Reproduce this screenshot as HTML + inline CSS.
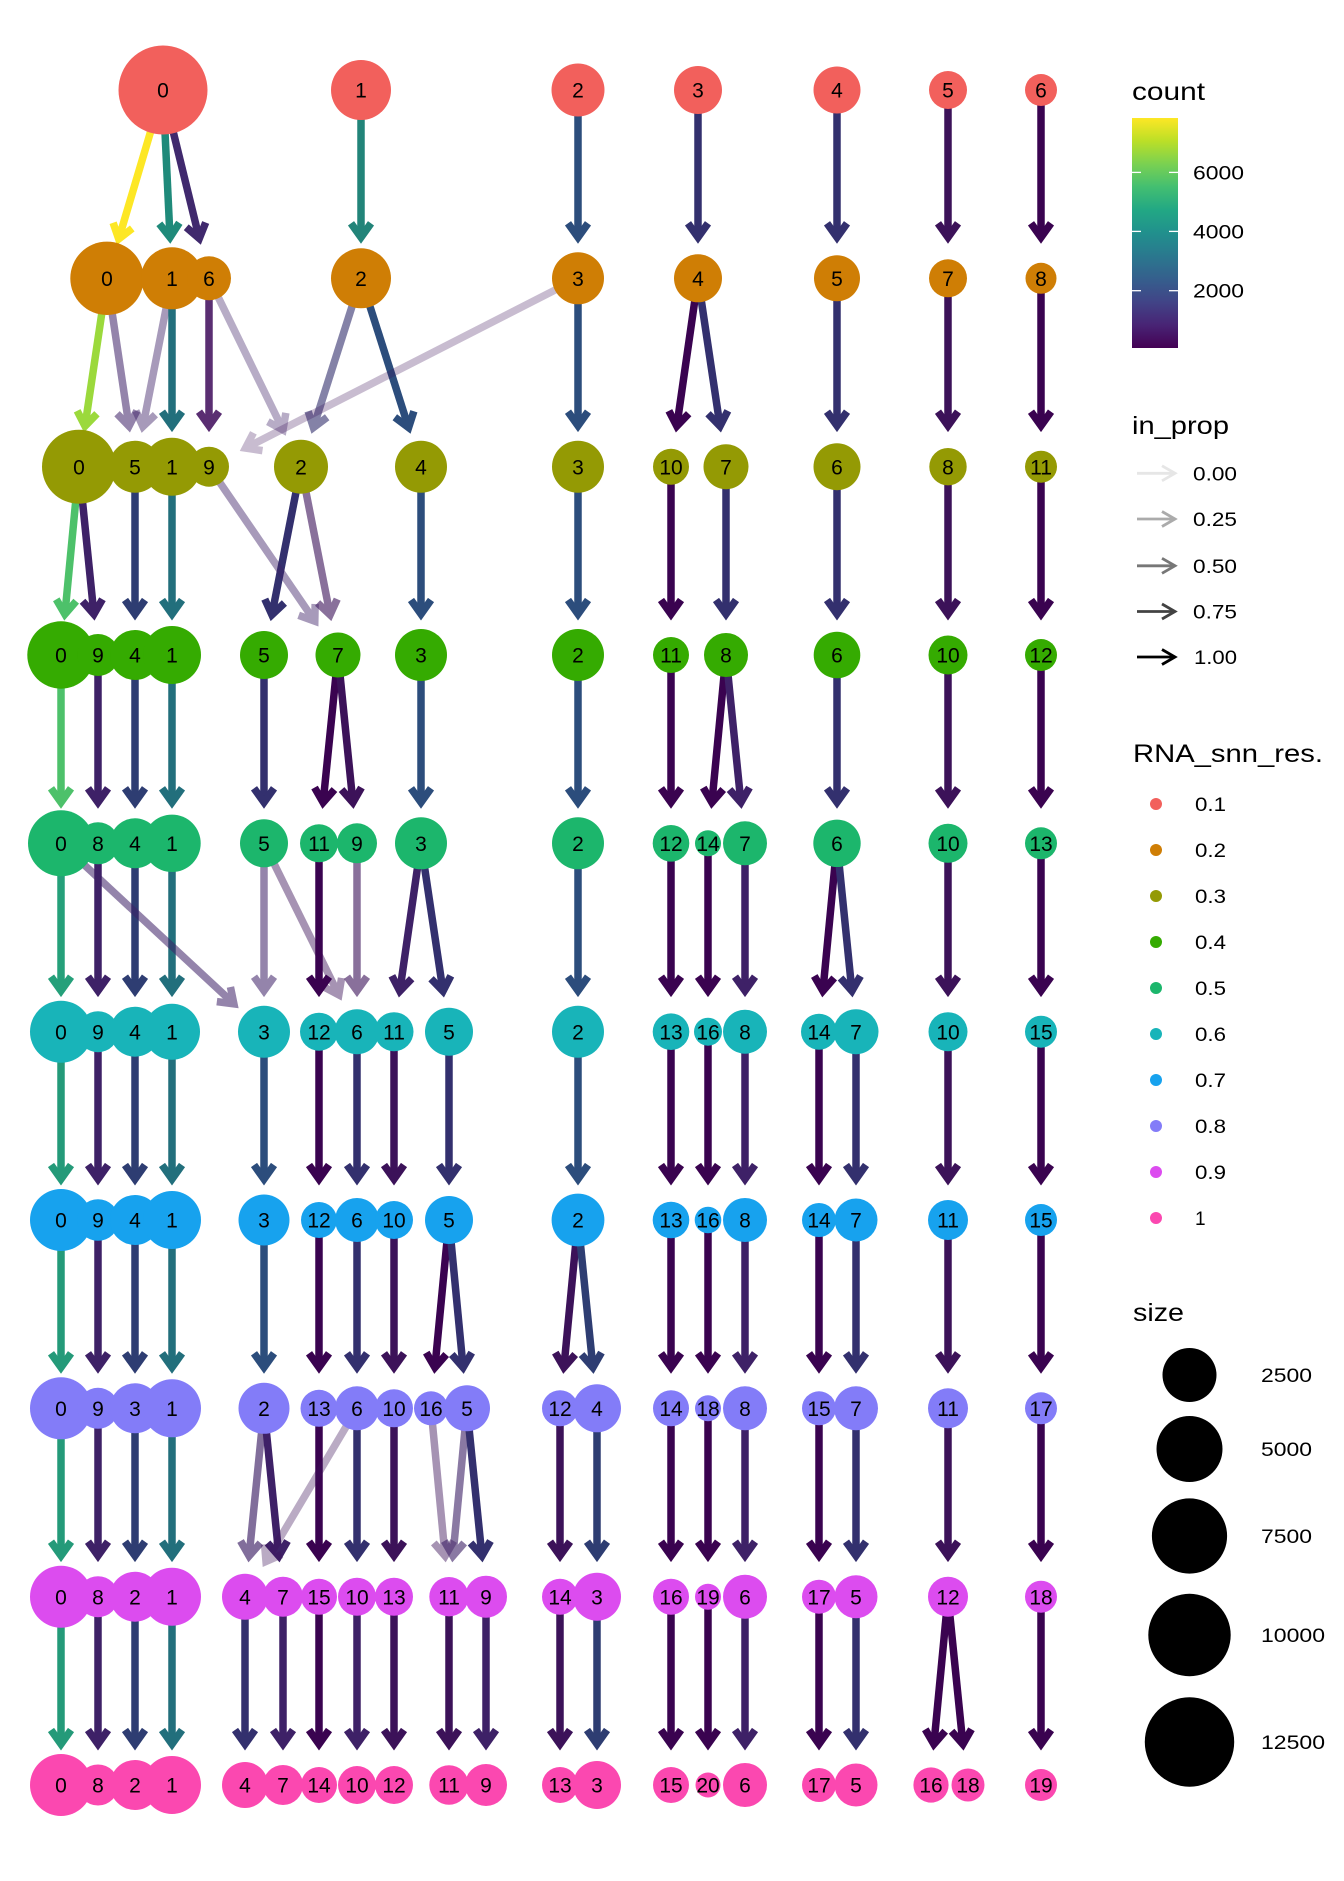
<!DOCTYPE html>
<html><head><meta charset="utf-8">
<style>
html,body{margin:0;padding:0;background:#fff}
svg{display:block}
text{font-family:"Liberation Sans",Arial,sans-serif;fill:#000}
.n text{font-size:21px;text-anchor:middle}
.lt{font-size:25px}
.ll{font-size:19px}
.e line{stroke-width:7.5;fill:none}
.Y{stroke:#FDE725;marker-end:url(#mY)}
.LG{stroke:#9BD93C;marker-end:url(#mLG)}
.G{stroke:#4DC16A;marker-end:url(#mG)}
.TG{stroke:#25A07A;marker-end:url(#mTG)}
.TG2{stroke:#249A79;marker-end:url(#mTG2)}
.T{stroke:#1F8A7A;marker-end:url(#mT)}
.T2{stroke:#228479;marker-end:url(#mT2)}
.TB{stroke:#226F7C;marker-end:url(#mTB)}
.B{stroke:#2C4D7C;marker-end:url(#mB)}
.B2{stroke:#2E3D72;marker-end:url(#mB2)}
.BP{stroke:#33306E;marker-end:url(#mBP)}
.P{stroke:#3E2167;marker-end:url(#mP)}
.PB{stroke:#40296D;marker-end:url(#mPB)}
.DP{stroke:#3C1259;marker-end:url(#mDP)}
.DD{stroke:#3A0350;marker-end:url(#mDD)}
.M{stroke:#5A2E72;marker-end:url(#mM)}
</style></head>
<body>
<svg width="1344" height="1881" viewBox="0 0 1344 1881" xmlns="http://www.w3.org/2000/svg">
<defs>
<marker id="mY" markerUnits="userSpaceOnUse" markerWidth="40" markerHeight="40" viewBox="-20 -20 40 40" refX="0" refY="0" orient="auto" overflow="visible"><path d="M-14,-10 L0,0 L-14,10" fill="none" stroke="#FDE725" stroke-width="7.5"/></marker>
<marker id="mLG" markerUnits="userSpaceOnUse" markerWidth="40" markerHeight="40" viewBox="-20 -20 40 40" refX="0" refY="0" orient="auto" overflow="visible"><path d="M-14,-10 L0,0 L-14,10" fill="none" stroke="#9BD93C" stroke-width="7.5"/></marker>
<marker id="mG" markerUnits="userSpaceOnUse" markerWidth="40" markerHeight="40" viewBox="-20 -20 40 40" refX="0" refY="0" orient="auto" overflow="visible"><path d="M-14,-10 L0,0 L-14,10" fill="none" stroke="#4DC16A" stroke-width="7.5"/></marker>
<marker id="mTG" markerUnits="userSpaceOnUse" markerWidth="40" markerHeight="40" viewBox="-20 -20 40 40" refX="0" refY="0" orient="auto" overflow="visible"><path d="M-14,-10 L0,0 L-14,10" fill="none" stroke="#25A07A" stroke-width="7.5"/></marker>
<marker id="mTG2" markerUnits="userSpaceOnUse" markerWidth="40" markerHeight="40" viewBox="-20 -20 40 40" refX="0" refY="0" orient="auto" overflow="visible"><path d="M-14,-10 L0,0 L-14,10" fill="none" stroke="#249A79" stroke-width="7.5"/></marker>
<marker id="mT" markerUnits="userSpaceOnUse" markerWidth="40" markerHeight="40" viewBox="-20 -20 40 40" refX="0" refY="0" orient="auto" overflow="visible"><path d="M-14,-10 L0,0 L-14,10" fill="none" stroke="#1F8A7A" stroke-width="7.5"/></marker>
<marker id="mT2" markerUnits="userSpaceOnUse" markerWidth="40" markerHeight="40" viewBox="-20 -20 40 40" refX="0" refY="0" orient="auto" overflow="visible"><path d="M-14,-10 L0,0 L-14,10" fill="none" stroke="#228479" stroke-width="7.5"/></marker>
<marker id="mTB" markerUnits="userSpaceOnUse" markerWidth="40" markerHeight="40" viewBox="-20 -20 40 40" refX="0" refY="0" orient="auto" overflow="visible"><path d="M-14,-10 L0,0 L-14,10" fill="none" stroke="#226F7C" stroke-width="7.5"/></marker>
<marker id="mB" markerUnits="userSpaceOnUse" markerWidth="40" markerHeight="40" viewBox="-20 -20 40 40" refX="0" refY="0" orient="auto" overflow="visible"><path d="M-14,-10 L0,0 L-14,10" fill="none" stroke="#2C4D7C" stroke-width="7.5"/></marker>
<marker id="mB2" markerUnits="userSpaceOnUse" markerWidth="40" markerHeight="40" viewBox="-20 -20 40 40" refX="0" refY="0" orient="auto" overflow="visible"><path d="M-14,-10 L0,0 L-14,10" fill="none" stroke="#2E3D72" stroke-width="7.5"/></marker>
<marker id="mBP" markerUnits="userSpaceOnUse" markerWidth="40" markerHeight="40" viewBox="-20 -20 40 40" refX="0" refY="0" orient="auto" overflow="visible"><path d="M-14,-10 L0,0 L-14,10" fill="none" stroke="#33306E" stroke-width="7.5"/></marker>
<marker id="mP" markerUnits="userSpaceOnUse" markerWidth="40" markerHeight="40" viewBox="-20 -20 40 40" refX="0" refY="0" orient="auto" overflow="visible"><path d="M-14,-10 L0,0 L-14,10" fill="none" stroke="#3E2167" stroke-width="7.5"/></marker>
<marker id="mPB" markerUnits="userSpaceOnUse" markerWidth="40" markerHeight="40" viewBox="-20 -20 40 40" refX="0" refY="0" orient="auto" overflow="visible"><path d="M-14,-10 L0,0 L-14,10" fill="none" stroke="#40296D" stroke-width="7.5"/></marker>
<marker id="mDP" markerUnits="userSpaceOnUse" markerWidth="40" markerHeight="40" viewBox="-20 -20 40 40" refX="0" refY="0" orient="auto" overflow="visible"><path d="M-14,-10 L0,0 L-14,10" fill="none" stroke="#3C1259" stroke-width="7.5"/></marker>
<marker id="mDD" markerUnits="userSpaceOnUse" markerWidth="40" markerHeight="40" viewBox="-20 -20 40 40" refX="0" refY="0" orient="auto" overflow="visible"><path d="M-14,-10 L0,0 L-14,10" fill="none" stroke="#3A0350" stroke-width="7.5"/></marker>
<marker id="mM" markerUnits="userSpaceOnUse" markerWidth="40" markerHeight="40" viewBox="-20 -20 40 40" refX="0" refY="0" orient="auto" overflow="visible"><path d="M-14,-10 L0,0 L-14,10" fill="none" stroke="#5A2E72" stroke-width="7.5"/></marker>
<linearGradient id="vir" x1="0" y1="0" x2="0" y2="1">
<stop offset="0" stop-color="#FDE725"/><stop offset="0.1" stop-color="#BBDF27"/><stop offset="0.2" stop-color="#7AD151"/><stop offset="0.3" stop-color="#43BF71"/><stop offset="0.4" stop-color="#22A884"/><stop offset="0.5" stop-color="#21908D"/><stop offset="0.6" stop-color="#2A788E"/><stop offset="0.7" stop-color="#355F8D"/><stop offset="0.8" stop-color="#414487"/><stop offset="0.9" stop-color="#482475"/><stop offset="1" stop-color="#440154"/>
</linearGradient>
</defs>
<rect width="1344" height="1881" fill="#fff"/>

<g class="e">
<!-- row0 -> row1 -->
<line class="Y" x1="163" y1="90" x2="118.7" y2="239"/>
<line class="T" x1="163" y1="90" x2="170" y2="237.3"/>
<line class="PB" x1="163" y1="90" x2="199.3" y2="238.5"/>
<line class="T2" x1="361" y1="90" x2="361" y2="237.3"/>
<line class="B" x1="578" y1="90" x2="578" y2="237.3"/>
<line class="BP" x1="698" y1="90" x2="698" y2="237.3"/>
<line class="BP" x1="837" y1="90" x2="837" y2="237.3"/>
<line class="DP" x1="948" y1="90" x2="948" y2="237.3"/>
<line class="DD" x1="1041" y1="90" x2="1041" y2="237.3"/>
<!-- row1 -> row2 -->
<line class="LG" x1="107" y1="278.3" x2="85" y2="426.1"/>
<g opacity=".55"><line class="P" x1="107" y1="278.3" x2="129" y2="426.1"/></g>
<g opacity=".45"><line class="P" x1="172" y1="278.3" x2="142.9" y2="426.5"/></g>
<line class="TB" x1="172" y1="278.3" x2="172" y2="425.7"/>
<line class="M" x1="209" y1="278.3" x2="209" y2="425.7"/>
<g opacity=".37"><line class="P" x1="209" y1="278.3" x2="283" y2="429.9"/></g>
<g opacity=".6"><line class="BP" x1="361" y1="278.3" x2="313.4" y2="427.6"/></g>
<line class="B" x1="361" y1="278.3" x2="408.6" y2="427.6"/>
<line class="B" x1="578" y1="278.3" x2="578" y2="425.7"/>
<line class="DD" x1="698" y1="278.3" x2="676.8" y2="426.1"/>
<line class="BP" x1="698" y1="278.3" x2="720" y2="426.1"/>
<line class="BP" x1="837" y1="278.3" x2="837" y2="425.7"/>
<line class="DP" x1="948" y1="278.3" x2="948" y2="425.7"/>
<line class="DD" x1="1041" y1="278.3" x2="1041" y2="425.7"/>
<g opacity=".28"><line class="DP" x1="578" y1="278.3" x2="245.5" y2="448.1"/></g>
<!-- row2 -> row3 -->
<line class="G" x1="79" y1="466.7" x2="64.9" y2="614.2"/>
<line class="P" x1="79" y1="466.7" x2="93.9" y2="614.2"/>
<line class="B2" x1="135" y1="466.7" x2="135" y2="614"/>
<line class="TB" x1="172" y1="466.7" x2="172" y2="614"/>
<line class="BP" x1="301" y1="466.7" x2="271.9" y2="614.8"/>
<g opacity=".6"><line class="DP" x1="301" y1="466.7" x2="330.1" y2="614.8"/></g>
<g opacity=".45"><line class="P" x1="209" y1="466.7" x2="314.8" y2="621.2"/></g>
<line class="B" x1="421" y1="466.7" x2="421" y2="614"/>
<line class="B" x1="578" y1="466.7" x2="578" y2="614"/>
<line class="DD" x1="671" y1="466.7" x2="671" y2="614"/>
<line class="BP" x1="726" y1="466.7" x2="726" y2="614"/>
<line class="BP" x1="837" y1="466.7" x2="837" y2="614"/>
<line class="DP" x1="948" y1="466.7" x2="948" y2="614"/>
<line class="DD" x1="1041" y1="466.7" x2="1041" y2="614"/>
<!-- row3 -> row4 -->
<line class="G" x1="61" y1="655" x2="61" y2="802.3"/>
<line class="P" x1="98" y1="655" x2="98" y2="802.3"/>
<line class="B2" x1="135" y1="655" x2="135" y2="802.3"/>
<line class="TB" x1="172" y1="655" x2="172" y2="802.3"/>
<line class="BP" x1="264" y1="655" x2="264" y2="802.3"/>
<line class="DD" x1="338" y1="655" x2="323.1" y2="802.5"/>
<line class="DP" x1="338" y1="655" x2="352.9" y2="802.5"/>
<line class="B" x1="421" y1="655" x2="421" y2="802.3"/>
<line class="B" x1="578" y1="655" x2="578" y2="802.3"/>
<line class="DD" x1="671" y1="655" x2="671" y2="802.3"/>
<line class="DD" x1="726" y1="655" x2="711.9" y2="802.5"/>
<line class="P" x1="726" y1="655" x2="740.9" y2="802.5"/>
<line class="BP" x1="837" y1="655" x2="837" y2="802.3"/>
<line class="DP" x1="948" y1="655" x2="948" y2="802.3"/>
<line class="DD" x1="1041" y1="655" x2="1041" y2="802.3"/>
<!-- row4 -> row5 -->
<line class="TG" x1="61" y1="843.3" x2="61" y2="990.7"/>
<line class="P" x1="98" y1="843.3" x2="98" y2="990.7"/>
<line class="B2" x1="135" y1="843.3" x2="135" y2="990.7"/>
<line class="TB" x1="172" y1="843.3" x2="172" y2="990.7"/>
<g opacity=".55"><line class="P" x1="61" y1="843.3" x2="233.9" y2="1003.8"/></g>
<g opacity=".55"><line class="P" x1="264" y1="843.3" x2="264" y2="990.7"/></g>
<g opacity=".45"><line class="DP" x1="264" y1="843.3" x2="338.8" y2="994.9"/></g>
<line class="DD" x1="319" y1="843.3" x2="319" y2="990.7"/>
<g opacity=".6"><line class="DP" x1="357" y1="843.3" x2="357" y2="990.7"/></g>
<line class="P" x1="421" y1="843.3" x2="399.8" y2="991.1"/>
<line class="BP" x1="421" y1="843.3" x2="443" y2="991.1"/>
<line class="B" x1="578" y1="843.3" x2="578" y2="990.7"/>
<line class="DD" x1="671" y1="843.3" x2="671" y2="990.7"/>
<line class="DD" x1="708" y1="843.3" x2="708" y2="990.7"/>
<line class="P" x1="745" y1="843.3" x2="745" y2="990.7"/>
<line class="DD" x1="837" y1="843.3" x2="822.9" y2="990.9"/>
<line class="BP" x1="837" y1="843.3" x2="851.9" y2="990.9"/>
<line class="DP" x1="948" y1="843.3" x2="948" y2="990.7"/>
<line class="DD" x1="1041" y1="843.3" x2="1041" y2="990.7"/>
<!-- row5 -> row6 -->
<line class="TG2" x1="61" y1="1031.7" x2="61" y2="1179"/>
<line class="P" x1="98" y1="1031.7" x2="98" y2="1179"/>
<line class="B2" x1="135" y1="1031.7" x2="135" y2="1179"/>
<line class="TB" x1="172" y1="1031.7" x2="172" y2="1179"/>
<line class="B" x1="264" y1="1031.7" x2="264" y2="1179"/>
<line class="DD" x1="319" y1="1031.7" x2="319" y2="1179"/>
<line class="BP" x1="357" y1="1031.7" x2="357" y2="1179"/>
<line class="DP" x1="394" y1="1031.7" x2="394" y2="1179"/>
<line class="BP" x1="449" y1="1031.7" x2="449" y2="1179"/>
<line class="B" x1="578" y1="1031.7" x2="578" y2="1179"/>
<line class="DD" x1="671" y1="1031.7" x2="671" y2="1179"/>
<line class="DD" x1="708" y1="1031.7" x2="708" y2="1179"/>
<line class="P" x1="745" y1="1031.7" x2="745" y2="1179"/>
<line class="DD" x1="819" y1="1031.7" x2="819" y2="1179"/>
<line class="BP" x1="856" y1="1031.7" x2="856" y2="1179"/>
<line class="DP" x1="948" y1="1031.7" x2="948" y2="1179"/>
<line class="DD" x1="1041" y1="1031.7" x2="1041" y2="1179"/>
<!-- row6 -> row7 -->
<line class="TG2" x1="61" y1="1220" x2="61" y2="1367.3"/>
<line class="P" x1="98" y1="1220" x2="98" y2="1367.3"/>
<line class="B2" x1="135" y1="1220" x2="135" y2="1367.3"/>
<line class="TB" x1="172" y1="1220" x2="172" y2="1367.3"/>
<line class="B" x1="264" y1="1220" x2="264" y2="1367.3"/>
<line class="DD" x1="319" y1="1220" x2="319" y2="1367.3"/>
<line class="BP" x1="357" y1="1220" x2="357" y2="1367.3"/>
<line class="DP" x1="394" y1="1220" x2="394" y2="1367.3"/>
<line class="DD" x1="449" y1="1220" x2="434.9" y2="1367.5"/>
<line class="BP" x1="449" y1="1220" x2="463.1" y2="1367.5"/>
<line class="DP" x1="578" y1="1220" x2="563.9" y2="1367.5"/>
<line class="B2" x1="578" y1="1220" x2="592.9" y2="1367.5"/>
<line class="DD" x1="671" y1="1220" x2="671" y2="1367.3"/>
<line class="DD" x1="708" y1="1220" x2="708" y2="1367.3"/>
<line class="P" x1="745" y1="1220" x2="745" y2="1367.3"/>
<line class="DD" x1="819" y1="1220" x2="819" y2="1367.3"/>
<line class="BP" x1="856" y1="1220" x2="856" y2="1367.3"/>
<line class="DP" x1="948" y1="1220" x2="948" y2="1367.3"/>
<line class="DD" x1="1041" y1="1220" x2="1041" y2="1367.3"/>
<!-- row7 -> row8 -->
<line class="TG2" x1="61" y1="1408.3" x2="61" y2="1555.7"/>
<line class="P" x1="98" y1="1408.3" x2="98" y2="1555.7"/>
<line class="B2" x1="135" y1="1408.3" x2="135" y2="1555.7"/>
<line class="TB" x1="172" y1="1408.3" x2="172" y2="1555.7"/>
<g opacity=".65"><line class="P" x1="264" y1="1408.3" x2="249.1" y2="1555.9"/></g>
<line class="P" x1="264" y1="1408.3" x2="278.9" y2="1555.9"/>
<line class="DD" x1="319" y1="1408.3" x2="319" y2="1555.7"/>
<line class="BP" x1="357" y1="1408.3" x2="357" y2="1555.7"/>
<line class="DP" x1="394" y1="1408.3" x2="394" y2="1555.7"/>
<g opacity=".35"><line class="DP" x1="357" y1="1408.3" x2="266" y2="1561.5"/></g>
<g opacity=".45"><line class="DP" x1="431" y1="1408.3" x2="445.1" y2="1555.9"/></g>
<g opacity=".6"><line class="P" x1="467" y1="1408.3" x2="452.9" y2="1555.9"/></g>
<line class="BP" x1="467" y1="1408.3" x2="481.9" y2="1555.9"/>
<line class="DP" x1="560" y1="1408.3" x2="560" y2="1555.7"/>
<line class="B2" x1="597" y1="1408.3" x2="597" y2="1555.7"/>
<line class="DD" x1="671" y1="1408.3" x2="671" y2="1555.7"/>
<line class="DD" x1="708" y1="1408.3" x2="708" y2="1555.7"/>
<line class="P" x1="745" y1="1408.3" x2="745" y2="1555.7"/>
<line class="DD" x1="819" y1="1408.3" x2="819" y2="1555.7"/>
<line class="BP" x1="856" y1="1408.3" x2="856" y2="1555.7"/>
<line class="DP" x1="948" y1="1408.3" x2="948" y2="1555.7"/>
<line class="DD" x1="1041" y1="1408.3" x2="1041" y2="1555.7"/>
<!-- row8 -> row9 -->
<line class="TG2" x1="61" y1="1596.7" x2="61" y2="1744"/>
<line class="P" x1="98" y1="1596.7" x2="98" y2="1744"/>
<line class="B2" x1="135" y1="1596.7" x2="135" y2="1744"/>
<line class="TB" x1="172" y1="1596.7" x2="172" y2="1744"/>
<line class="BP" x1="245" y1="1596.7" x2="245" y2="1744"/>
<line class="P" x1="283" y1="1596.7" x2="283" y2="1744"/>
<line class="DD" x1="319" y1="1596.7" x2="319" y2="1744"/>
<line class="P" x1="357" y1="1596.7" x2="357" y2="1744"/>
<line class="DP" x1="394" y1="1596.7" x2="394" y2="1744"/>
<line class="DP" x1="449" y1="1596.7" x2="449" y2="1744"/>
<line class="P" x1="486" y1="1596.7" x2="486" y2="1744"/>
<line class="DP" x1="560" y1="1596.7" x2="560" y2="1744"/>
<line class="B2" x1="597" y1="1596.7" x2="597" y2="1744"/>
<line class="DD" x1="671" y1="1596.7" x2="671" y2="1744"/>
<line class="DD" x1="708" y1="1596.7" x2="708" y2="1744"/>
<line class="P" x1="745" y1="1596.7" x2="745" y2="1744"/>
<line class="DD" x1="819" y1="1596.7" x2="819" y2="1744"/>
<line class="BP" x1="856" y1="1596.7" x2="856" y2="1744"/>
<line class="DD" x1="948" y1="1596.7" x2="933.9" y2="1744.2"/>
<line class="DD" x1="948" y1="1596.7" x2="962.9" y2="1744.2"/>
<line class="DD" x1="1041" y1="1596.7" x2="1041" y2="1744"/>
</g>

<!-- nodes -->
<g fill="#F2605C">
<circle cx="163" cy="90" r="44.5"/><circle cx="361" cy="90" r="30"/><circle cx="578" cy="90" r="26.5"/><circle cx="698" cy="90" r="24"/><circle cx="837" cy="90" r="23.5"/><circle cx="948" cy="90" r="19"/><circle cx="1041" cy="90" r="16"/>
</g>
<g fill="#CF7E05">
<circle cx="107" cy="278.3" r="36.7"/><circle cx="172" cy="278.3" r="31"/><circle cx="209" cy="278.3" r="22"/><circle cx="361" cy="278.3" r="30"/><circle cx="578" cy="278.3" r="26"/><circle cx="698" cy="278.3" r="24"/><circle cx="837" cy="278.3" r="23"/><circle cx="948" cy="278.3" r="19"/><circle cx="1041" cy="278.3" r="15.5"/>
</g>
<g fill="#949A04">
<circle cx="79" cy="466.7" r="37"/><circle cx="135" cy="466.7" r="26"/><circle cx="172" cy="466.7" r="29"/><circle cx="209" cy="466.7" r="20"/><circle cx="301" cy="466.7" r="27"/><circle cx="421" cy="466.7" r="26"/><circle cx="578" cy="466.7" r="26"/><circle cx="671" cy="466.7" r="18"/><circle cx="726" cy="466.7" r="22.5"/><circle cx="837" cy="466.7" r="23.5"/><circle cx="948" cy="466.7" r="18.7"/><circle cx="1041" cy="466.7" r="16"/>
</g>
<g fill="#35AB01">
<circle cx="61" cy="655" r="33.7"/><circle cx="98" cy="655" r="21"/><circle cx="135" cy="655" r="25"/><circle cx="172" cy="655" r="29"/><circle cx="264" cy="655" r="24"/><circle cx="338" cy="655" r="22.5"/><circle cx="421" cy="655" r="26"/><circle cx="578" cy="655" r="26"/><circle cx="671" cy="655" r="18"/><circle cx="726" cy="655" r="22"/><circle cx="837" cy="655" r="23.3"/><circle cx="948" cy="655" r="19.5"/><circle cx="1041" cy="655" r="16"/>
</g>
<g fill="#1CB66C">
<circle cx="61" cy="843.3" r="33"/><circle cx="98" cy="843.3" r="21"/><circle cx="135" cy="843.3" r="25"/><circle cx="172" cy="843.3" r="28.7"/><circle cx="264" cy="843.3" r="24"/><circle cx="319" cy="843.3" r="19"/><circle cx="357" cy="843.3" r="20"/><circle cx="421" cy="843.3" r="26"/><circle cx="578" cy="843.3" r="26"/><circle cx="671" cy="843.3" r="18.3"/><circle cx="708" cy="843.3" r="13"/><circle cx="745" cy="843.3" r="22"/><circle cx="837" cy="843.3" r="23.7"/><circle cx="948" cy="843.3" r="19.5"/><circle cx="1041" cy="843.3" r="16"/>
</g>
<g fill="#18B4B9">
<circle cx="61" cy="1031.7" r="31"/><circle cx="98" cy="1031.7" r="20.5"/><circle cx="135" cy="1031.7" r="25"/><circle cx="172" cy="1031.7" r="28"/><circle cx="264" cy="1031.7" r="26"/><circle cx="319" cy="1031.7" r="19"/><circle cx="357" cy="1031.7" r="22.5"/><circle cx="394" cy="1031.7" r="19.5"/><circle cx="449" cy="1031.7" r="24"/><circle cx="578" cy="1031.7" r="26"/><circle cx="671" cy="1031.7" r="18.3"/><circle cx="708" cy="1031.7" r="14"/><circle cx="745" cy="1031.7" r="22"/><circle cx="819" cy="1031.7" r="18"/><circle cx="856" cy="1031.7" r="22.5"/><circle cx="948" cy="1031.7" r="19.5"/><circle cx="1041" cy="1031.7" r="16"/>
</g>
<g fill="#17A2EE">
<circle cx="61" cy="1220" r="31"/><circle cx="98" cy="1220" r="20.8"/><circle cx="135" cy="1220" r="25"/><circle cx="172" cy="1220" r="29"/><circle cx="264" cy="1220" r="25.5"/><circle cx="319" cy="1220" r="18"/><circle cx="357" cy="1220" r="22"/><circle cx="394" cy="1220" r="19"/><circle cx="449" cy="1220" r="24"/><circle cx="578" cy="1220" r="26.4"/><circle cx="671" cy="1220" r="18.3"/><circle cx="708" cy="1220" r="13.3"/><circle cx="745" cy="1220" r="22"/><circle cx="819" cy="1220" r="17"/><circle cx="856" cy="1220" r="21.5"/><circle cx="948" cy="1220" r="20"/><circle cx="1041" cy="1220" r="16"/>
</g>
<g fill="#837CF8">
<circle cx="61" cy="1408.3" r="31"/><circle cx="98" cy="1408.3" r="20.5"/><circle cx="135" cy="1408.3" r="25"/><circle cx="172" cy="1408.3" r="29"/><circle cx="264" cy="1408.3" r="25.5"/><circle cx="319" cy="1408.3" r="18.5"/><circle cx="357" cy="1408.3" r="22"/><circle cx="394" cy="1408.3" r="19"/><circle cx="431" cy="1408.3" r="17"/><circle cx="467" cy="1408.3" r="23"/><circle cx="560" cy="1408.3" r="18"/><circle cx="597" cy="1408.3" r="24"/><circle cx="671" cy="1408.3" r="18"/><circle cx="708" cy="1408.3" r="13"/><circle cx="745" cy="1408.3" r="22"/><circle cx="819" cy="1408.3" r="17"/><circle cx="856" cy="1408.3" r="22"/><circle cx="948" cy="1408.3" r="20"/><circle cx="1041" cy="1408.3" r="16"/>
</g>
<g fill="#DC4CEF">
<circle cx="61" cy="1596.7" r="31"/><circle cx="98" cy="1596.7" r="20.5"/><circle cx="135" cy="1596.7" r="25"/><circle cx="172" cy="1596.7" r="29"/><circle cx="245" cy="1596.7" r="23"/><circle cx="283" cy="1596.7" r="20"/><circle cx="319" cy="1596.7" r="18"/><circle cx="357" cy="1596.7" r="19"/><circle cx="394" cy="1596.7" r="19"/><circle cx="449" cy="1596.7" r="19.7"/><circle cx="486" cy="1596.7" r="21"/><circle cx="560" cy="1596.7" r="18"/><circle cx="597" cy="1596.7" r="24"/><circle cx="671" cy="1596.7" r="18"/><circle cx="708" cy="1596.7" r="13"/><circle cx="745" cy="1596.7" r="22"/><circle cx="819" cy="1596.7" r="17"/><circle cx="856" cy="1596.7" r="21.5"/><circle cx="948" cy="1596.7" r="20"/><circle cx="1041" cy="1596.7" r="16"/>
</g>
<g fill="#FB48B0">
<circle cx="61" cy="1785" r="31"/><circle cx="98" cy="1785" r="20.5"/><circle cx="135" cy="1785" r="25"/><circle cx="172" cy="1785" r="29"/><circle cx="245" cy="1785" r="23"/><circle cx="283" cy="1785" r="20"/><circle cx="319" cy="1785" r="18"/><circle cx="357" cy="1785" r="19"/><circle cx="394" cy="1785" r="19"/><circle cx="449" cy="1785" r="19.7"/><circle cx="486" cy="1785" r="21"/><circle cx="560" cy="1785" r="18"/><circle cx="597" cy="1785" r="24"/><circle cx="671" cy="1785" r="18"/><circle cx="708" cy="1785" r="12.5"/><circle cx="745" cy="1785" r="22"/><circle cx="819" cy="1785" r="17"/><circle cx="856" cy="1785" r="21.5"/><circle cx="931" cy="1785" r="17.6"/><circle cx="968" cy="1785" r="16.5"/><circle cx="1041" cy="1785" r="16"/>
</g>

<!-- labels -->
<g class="n">
<text x="163" y="97.6">0</text><text x="361" y="97.6">1</text><text x="578" y="97.6">2</text><text x="698" y="97.6">3</text><text x="837" y="97.6">4</text><text x="948" y="97.6">5</text><text x="1041" y="97.6">6</text>

<text x="107" y="285.9">0</text><text x="172" y="285.9">1</text><text x="209" y="285.9">6</text><text x="361" y="285.9">2</text><text x="578" y="285.9">3</text><text x="698" y="285.9">4</text><text x="837" y="285.9">5</text><text x="948" y="285.9">7</text><text x="1041" y="285.9">8</text>

<text x="79" y="474.3">0</text><text x="135" y="474.3">5</text><text x="172" y="474.3">1</text><text x="209" y="474.3">9</text><text x="301" y="474.3">2</text><text x="421" y="474.3">4</text><text x="578" y="474.3">3</text><text x="671" y="474.3">10</text><text x="726" y="474.3">7</text><text x="837" y="474.3">6</text><text x="948" y="474.3">8</text><text x="1041" y="474.3">11</text>

<text x="61" y="662.6">0</text><text x="98" y="662.6">9</text><text x="135" y="662.6">4</text><text x="172" y="662.6">1</text><text x="264" y="662.6">5</text><text x="338" y="662.6">7</text><text x="421" y="662.6">3</text><text x="578" y="662.6">2</text><text x="671" y="662.6">11</text><text x="726" y="662.6">8</text><text x="837" y="662.6">6</text><text x="948" y="662.6">10</text><text x="1041" y="662.6">12</text>

<text x="61" y="850.9">0</text><text x="98" y="850.9">8</text><text x="135" y="850.9">4</text><text x="172" y="850.9">1</text><text x="264" y="850.9">5</text><text x="319" y="850.9">11</text><text x="357" y="850.9">9</text><text x="421" y="850.9">3</text><text x="578" y="850.9">2</text><text x="671" y="850.9">12</text><text x="708" y="850.9">14</text><text x="745" y="850.9">7</text><text x="837" y="850.9">6</text><text x="948" y="850.9">10</text><text x="1041" y="850.9">13</text>

<text x="61" y="1039.3">0</text><text x="98" y="1039.3">9</text><text x="135" y="1039.3">4</text><text x="172" y="1039.3">1</text><text x="264" y="1039.3">3</text><text x="319" y="1039.3">12</text><text x="357" y="1039.3">6</text><text x="394" y="1039.3">11</text><text x="449" y="1039.3">5</text><text x="578" y="1039.3">2</text><text x="671" y="1039.3">13</text><text x="708" y="1039.3">16</text><text x="745" y="1039.3">8</text><text x="819" y="1039.3">14</text><text x="856" y="1039.3">7</text><text x="948" y="1039.3">10</text><text x="1041" y="1039.3">15</text>

<text x="61" y="1227.6">0</text><text x="98" y="1227.6">9</text><text x="135" y="1227.6">4</text><text x="172" y="1227.6">1</text><text x="264" y="1227.6">3</text><text x="319" y="1227.6">12</text><text x="357" y="1227.6">6</text><text x="394" y="1227.6">10</text><text x="449" y="1227.6">5</text><text x="578" y="1227.6">2</text><text x="671" y="1227.6">13</text><text x="708" y="1227.6">16</text><text x="745" y="1227.6">8</text><text x="819" y="1227.6">14</text><text x="856" y="1227.6">7</text><text x="948" y="1227.6">11</text><text x="1041" y="1227.6">15</text>

<text x="61" y="1415.9">0</text><text x="98" y="1415.9">9</text><text x="135" y="1415.9">3</text><text x="172" y="1415.9">1</text><text x="264" y="1415.9">2</text><text x="319" y="1415.9">13</text><text x="357" y="1415.9">6</text><text x="394" y="1415.9">10</text><text x="431" y="1415.9">16</text><text x="467" y="1415.9">5</text><text x="560" y="1415.9">12</text><text x="597" y="1415.9">4</text><text x="671" y="1415.9">14</text><text x="708" y="1415.9">18</text><text x="745" y="1415.9">8</text><text x="819" y="1415.9">15</text><text x="856" y="1415.9">7</text><text x="948" y="1415.9">11</text><text x="1041" y="1415.9">17</text>

<text x="61" y="1604.3">0</text><text x="98" y="1604.3">8</text><text x="135" y="1604.3">2</text><text x="172" y="1604.3">1</text><text x="245" y="1604.3">4</text><text x="283" y="1604.3">7</text><text x="319" y="1604.3">15</text><text x="357" y="1604.3">10</text><text x="394" y="1604.3">13</text><text x="449" y="1604.3">11</text><text x="486" y="1604.3">9</text><text x="560" y="1604.3">14</text><text x="597" y="1604.3">3</text><text x="671" y="1604.3">16</text><text x="708" y="1604.3">19</text><text x="745" y="1604.3">6</text><text x="819" y="1604.3">17</text><text x="856" y="1604.3">5</text><text x="948" y="1604.3">12</text><text x="1041" y="1604.3">18</text>

<text x="61" y="1792.6">0</text><text x="98" y="1792.6">8</text><text x="135" y="1792.6">2</text><text x="172" y="1792.6">1</text><text x="245" y="1792.6">4</text><text x="283" y="1792.6">7</text><text x="319" y="1792.6">14</text><text x="357" y="1792.6">10</text><text x="394" y="1792.6">12</text><text x="449" y="1792.6">11</text><text x="486" y="1792.6">9</text><text x="560" y="1792.6">13</text><text x="597" y="1792.6">3</text><text x="671" y="1792.6">15</text><text x="708" y="1792.6">20</text><text x="745" y="1792.6">6</text><text x="819" y="1792.6">17</text><text x="856" y="1792.6">5</text><text x="931" y="1792.6">16</text><text x="968" y="1792.6">18</text><text x="1041" y="1792.6">19</text>
</g>

<!-- legend: count -->
<text class="lt" x="1132" y="100" textLength="73" lengthAdjust="spacingAndGlyphs">count</text>
<rect x="1132" y="118" width="46" height="230" fill="url(#vir)"/>
<g stroke="#fff" stroke-width="1.3">
<line x1="1132" y1="172.4" x2="1141" y2="172.4"/><line x1="1169" y1="172.4" x2="1178" y2="172.4"/>
<line x1="1132" y1="231.4" x2="1141" y2="231.4"/><line x1="1169" y1="231.4" x2="1178" y2="231.4"/>
<line x1="1132" y1="290.7" x2="1141" y2="290.7"/><line x1="1169" y1="290.7" x2="1178" y2="290.7"/>
</g>
<text class="ll" x="1193" y="179.4" textLength="51" lengthAdjust="spacingAndGlyphs">6000</text>
<text class="ll" x="1193" y="238.4" textLength="51" lengthAdjust="spacingAndGlyphs">4000</text>
<text class="ll" x="1193" y="297.7" textLength="51" lengthAdjust="spacingAndGlyphs">2000</text>

<!-- legend: in_prop -->
<text class="lt" x="1132" y="434" textLength="97" lengthAdjust="spacingAndGlyphs">in_prop</text>
<g fill="none" stroke-width="2.8">
<g stroke="#E6E6E6"><line x1="1137" y1="473.3" x2="1174" y2="473.3"/><path d="M1162,465.8 L1175,473.3 L1162,480.8"/></g>
<g stroke="#ABABAB"><line x1="1137" y1="519" x2="1174" y2="519"/><path d="M1162,511.5 L1175,519 L1162,526.5"/></g>
<g stroke="#777777"><line x1="1137" y1="565.8" x2="1174" y2="565.8"/><path d="M1162,558.3 L1175,565.8 L1162,573.3"/></g>
<g stroke="#424242"><line x1="1137" y1="611.5" x2="1174" y2="611.5"/><path d="M1162,604 L1175,611.5 L1162,619"/></g>
<g stroke="#000000"><line x1="1137" y1="657" x2="1174" y2="657"/><path d="M1162,649.5 L1175,657 L1162,664.5"/></g>
</g>
<text class="ll" x="1193" y="480.3" textLength="44" lengthAdjust="spacingAndGlyphs">0.00</text>
<text class="ll" x="1193" y="526" textLength="44" lengthAdjust="spacingAndGlyphs">0.25</text>
<text class="ll" x="1193" y="572.8" textLength="44" lengthAdjust="spacingAndGlyphs">0.50</text>
<text class="ll" x="1193" y="618.5" textLength="44" lengthAdjust="spacingAndGlyphs">0.75</text>
<text class="ll" x="1194" y="664" textLength="43" lengthAdjust="spacingAndGlyphs">1.00</text>

<!-- legend: RNA_snn_res. -->
<text class="lt" x="1133" y="762" textLength="190" lengthAdjust="spacingAndGlyphs">RNA_snn_res.</text>
<circle cx="1156" cy="804" r="6" fill="#F2605C"/>
<circle cx="1156" cy="850" r="6" fill="#CF7E05"/>
<circle cx="1156" cy="896" r="6" fill="#949A04"/>
<circle cx="1156" cy="942" r="6" fill="#35AB01"/>
<circle cx="1156" cy="988" r="6" fill="#1CB66C"/>
<circle cx="1156" cy="1034" r="6" fill="#18B4B9"/>
<circle cx="1156" cy="1080" r="6" fill="#17A2EE"/>
<circle cx="1156" cy="1126" r="6" fill="#837CF8"/>
<circle cx="1156" cy="1172" r="6" fill="#DC4CEF"/>
<circle cx="1156" cy="1218" r="6" fill="#FB48B0"/>
<text class="ll" x="1195" y="811" textLength="31" lengthAdjust="spacingAndGlyphs">0.1</text>
<text class="ll" x="1195" y="857" textLength="31" lengthAdjust="spacingAndGlyphs">0.2</text>
<text class="ll" x="1195" y="903" textLength="31" lengthAdjust="spacingAndGlyphs">0.3</text>
<text class="ll" x="1195" y="949" textLength="31" lengthAdjust="spacingAndGlyphs">0.4</text>
<text class="ll" x="1195" y="995" textLength="31" lengthAdjust="spacingAndGlyphs">0.5</text>
<text class="ll" x="1195" y="1041" textLength="31" lengthAdjust="spacingAndGlyphs">0.6</text>
<text class="ll" x="1195" y="1087" textLength="31" lengthAdjust="spacingAndGlyphs">0.7</text>
<text class="ll" x="1195" y="1133" textLength="31" lengthAdjust="spacingAndGlyphs">0.8</text>
<text class="ll" x="1195" y="1179" textLength="31" lengthAdjust="spacingAndGlyphs">0.9</text>
<text class="ll" x="1195" y="1225">1</text>

<!-- legend: size -->
<text class="lt" x="1133" y="1321" textLength="51" lengthAdjust="spacingAndGlyphs">size</text>
<g fill="#000">
<circle cx="1189.5" cy="1375" r="27"/>
<circle cx="1189.5" cy="1449" r="33"/>
<circle cx="1189.5" cy="1536" r="37.6"/>
<circle cx="1189.5" cy="1635" r="41.2"/>
<circle cx="1189.5" cy="1742" r="44.7"/>
</g>
<text class="ll" x="1261" y="1382" textLength="51" lengthAdjust="spacingAndGlyphs">2500</text>
<text class="ll" x="1261" y="1456" textLength="51" lengthAdjust="spacingAndGlyphs">5000</text>
<text class="ll" x="1261" y="1543" textLength="51" lengthAdjust="spacingAndGlyphs">7500</text>
<text class="ll" x="1261" y="1642" textLength="64" lengthAdjust="spacingAndGlyphs">10000</text>
<text class="ll" x="1261" y="1749" textLength="64" lengthAdjust="spacingAndGlyphs">12500</text>
</svg>
</body></html>
